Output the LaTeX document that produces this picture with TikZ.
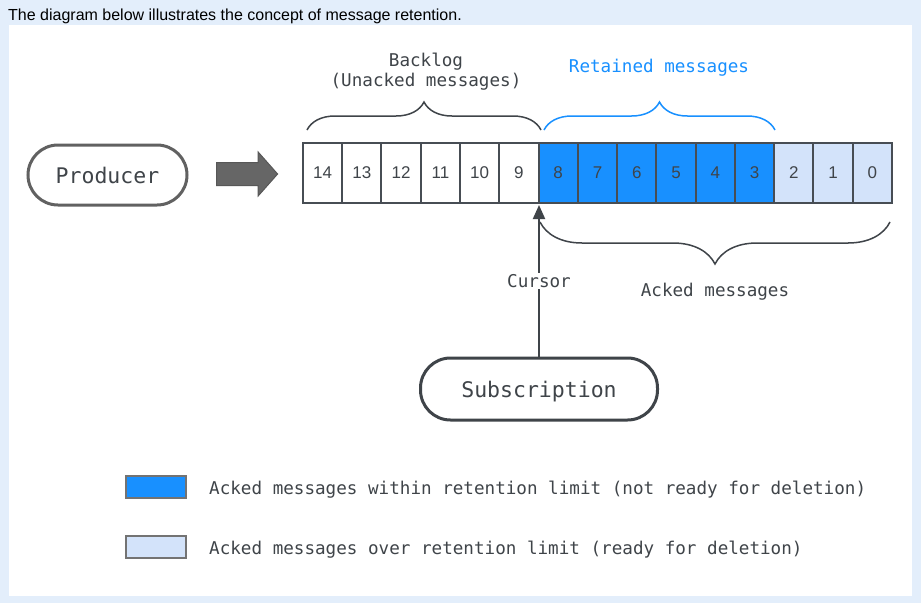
\documentclass[tikz,border=0pt]{standalone}
\usepackage{fontspec}
\setmainfont{Liberation Sans}
\newfontfamily\monofont{DejaVu Sans Mono}
\usetikzlibrary{arrows.meta,shapes.arrows,decorations.pathreplacing}
\definecolor{pagebg}{HTML}{E3EEFB}
\definecolor{acked}{HTML}{1890FF}
\definecolor{expired}{HTML}{D3E3FA}
\definecolor{edge}{HTML}{474D54}
\definecolor{ink}{HTML}{3F4449}
\definecolor{pushgray}{HTML}{666666}

\begin{document}
\begin{tikzpicture}[x=1pt,y=-1pt,
  cell/.style={draw=edge,line width=2pt,minimum width=39.27pt,minimum height=60pt,inner sep=0pt,font=\fontsize{17}{20}\selectfont,text=ink},
  pill/.style={draw=ink,line width=3pt,rounded corners=30pt,inner sep=0pt,text=ink,font=\monofont\fontsize{21.5}{24}\selectfont},
  lbl/.style={font=\monofont\fontsize{17.6}{20}\selectfont,text=ink,inner sep=1pt},
  legbox/.style={draw=gray!90!black,line width=1.5pt,minimum width=60pt,minimum height=22pt,inner sep=0pt},
  curly/.style={decorate,decoration={brace,amplitude=#1},line width=1.5pt}]

\useasboundingbox (0,0) rectangle (921,603);
\fill[pagebg] (0,0) rectangle (921,603);
\fill[white] (9,25) rectangle (912,596);

\node[anchor=base west,inner sep=0pt,font=\fontsize{16}{19}\selectfont] (title) at (8,20) {The diagram below illustrates the concept of message retention.};

\node[pill,draw=pushgray!95!black,minimum width=159pt,minimum height=60pt] (prod) at (107.5,175) {Producer};
\node[single arrow,fill=pushgray,draw=pushgray!85!black,line width=1pt,inner xsep=0pt,inner ysep=11pt,minimum height=61pt,single arrow head extend=10.5pt,single arrow tip angle=97] (push) at (242,174) {};

\foreach \i/\c in {0/expired,1/expired,2/expired,3/acked,4/acked,5/acked,6/acked,7/acked,8/acked,9/white,10/white,11/white,12/white,13/white,14/white}
{
\node[cell,fill=\c] (m\i) at ({892-(\i+0.5)*39.27},173) {\i};
}

\draw[curly=28,draw=ink] (307,130) -- (541,130);
\draw[curly=28,draw=acked] (544,130) -- (775,130);
\draw[curly=42,draw=ink] (890,222) -- (540,222);

\node[lbl,align=center] (backlog) at (426,72) {Backlog\\(Unacked messages)};
\node[lbl,text=acked] (kept) at (659,68) {Retained messages};
\node[lbl] (ackd) at (715,292) {Acked messages};

\node[pill,minimum width=237pt,minimum height=62pt,text depth=1pt] (sub) at (539,389) {\raisebox{-2pt}{Subscription}};
\coordinate (tip) at (539,205);
\draw[line width=2pt,draw=ink,-{Triangle[length=14pt,width=12pt]}] (sub) -- (tip);
\node[lbl,fill=white] (cur) at (539,281) {Cursor};

\node[legbox,fill=acked] (key1) at (156,487) {};
\node[lbl,anchor=west] (txt1) at (208,490) {Acked messages within retention limit (not ready for deletion)};
\node[legbox,fill=expired] (key2) at (156,547) {};
\node[lbl,anchor=west] (txt2) at (208,550) {Acked messages over retention limit (ready for deletion)};
\end{tikzpicture}
\end{document}
